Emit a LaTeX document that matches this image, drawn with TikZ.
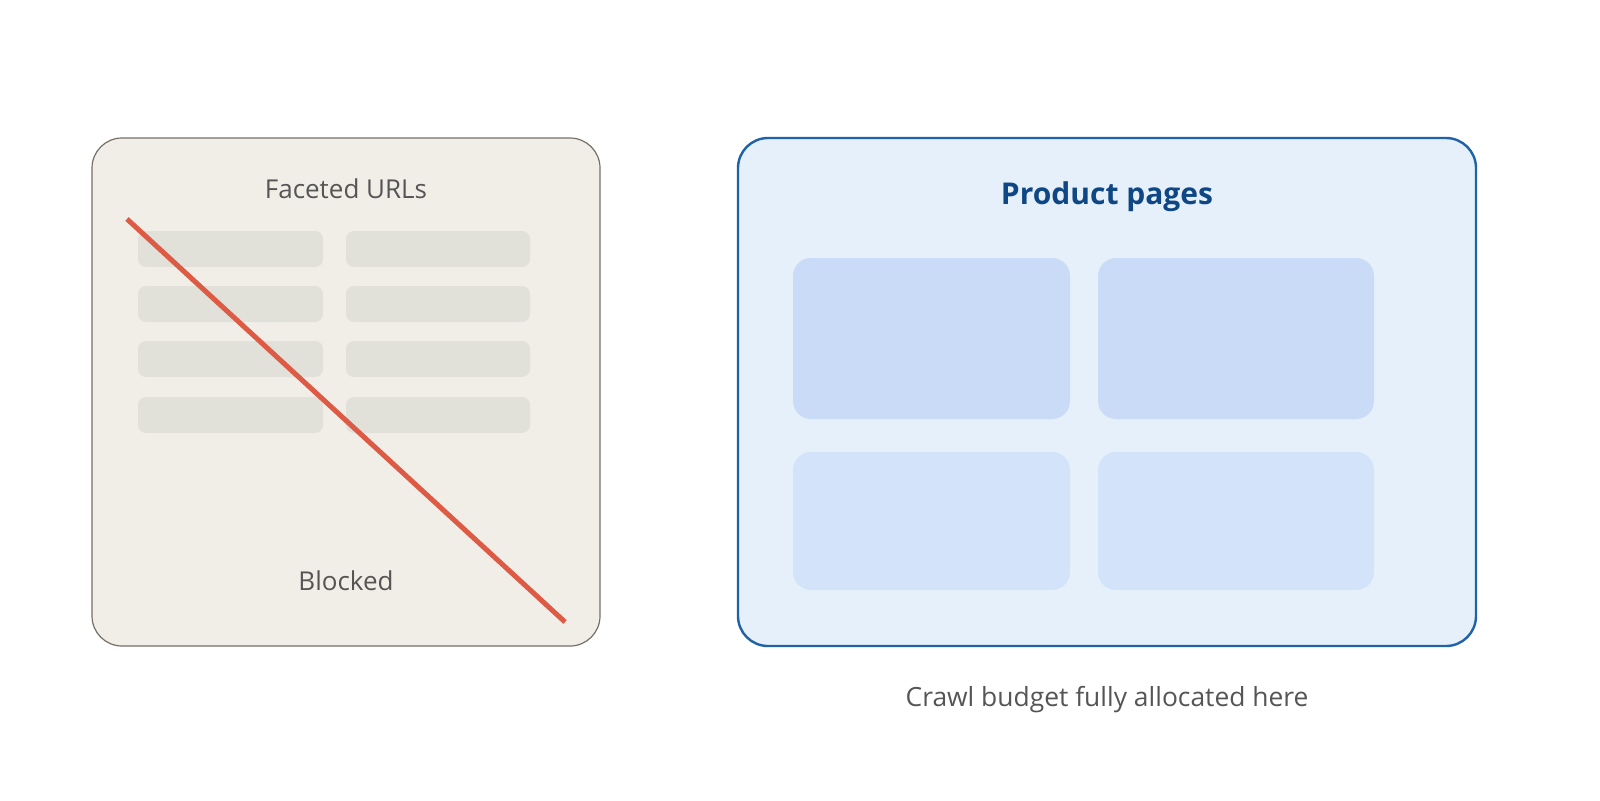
\documentclass[tikz,border=0pt]{standalone}
\usepackage{fontspec}
\setmainfont{Open Sans}
\definecolor{leftfill}{HTML}{F1EEE8}
\definecolor{leftdraw}{HTML}{77706A}
\definecolor{barfill}{HTML}{E1E0D9}
\definecolor{redline}{HTML}{DD5A45}
\definecolor{rightfill}{HTML}{E6F0FA}
\definecolor{rightdraw}{HTML}{1F62A8}
\definecolor{titleblue}{HTML}{0F4784}
\definecolor{cardA}{HTML}{CADBF8}
\definecolor{cardB}{HTML}{D3E3F9}
\definecolor{greytext}{HTML}{555555}
\begin{document}
\begin{tikzpicture}[x=0.5pt,y=-0.5pt,
  panel/.style={rounded corners=15pt},
  bar/.style={fill=barfill,rounded corners=4pt},
  card/.style={rounded corners=9pt},
  lbl/.style={font=\fontsize{13pt}{16pt}\selectfont,text=greytext,inner sep=0pt}]
\useasboundingbox[fill=white] (0,0) rectangle (1600,800);
% left panel
\draw[panel,fill=leftfill,draw=leftdraw,line width=0.6pt] (92,138) rectangle (600,646);
\node[lbl] (fac) at (346,189) {Faceted URLs};
\foreach \y in {231,286,341,397}{
  \fill[bar] (138,\y) rectangle (323,\y+36);
  \fill[bar] (346,\y) rectangle (530,\y+36);
}
\node[lbl] (blk) at (346,581) {Blocked};
\coordinate (r1) at (127,219);
\coordinate (r2) at (565,622);
\draw[redline,line width=2.5pt] (r1) -- (r2);
% right panel
\draw[panel,fill=rightfill,draw=rightdraw,line width=1.2pt] (738,138) rectangle (1476,646);
\node[font=\fontsize{15pt}{18pt}\selectfont\bfseries,text=titleblue,inner sep=0pt] (pp) at (1107,197) {Product pages};
\fill[card,cardA] (793,258) rectangle (1070,419);
\fill[card,cardA] (1098,258) rectangle (1374,419);
\fill[card,cardB] (793,452) rectangle (1070,590);
\fill[card,cardB] (1098,452) rectangle (1374,590);
\node[lbl,font=\fontsize{13.2pt}{16pt}\selectfont] (cb) at (1107,700) {Crawl budget fully allocated here};
\end{tikzpicture}
\end{document}
